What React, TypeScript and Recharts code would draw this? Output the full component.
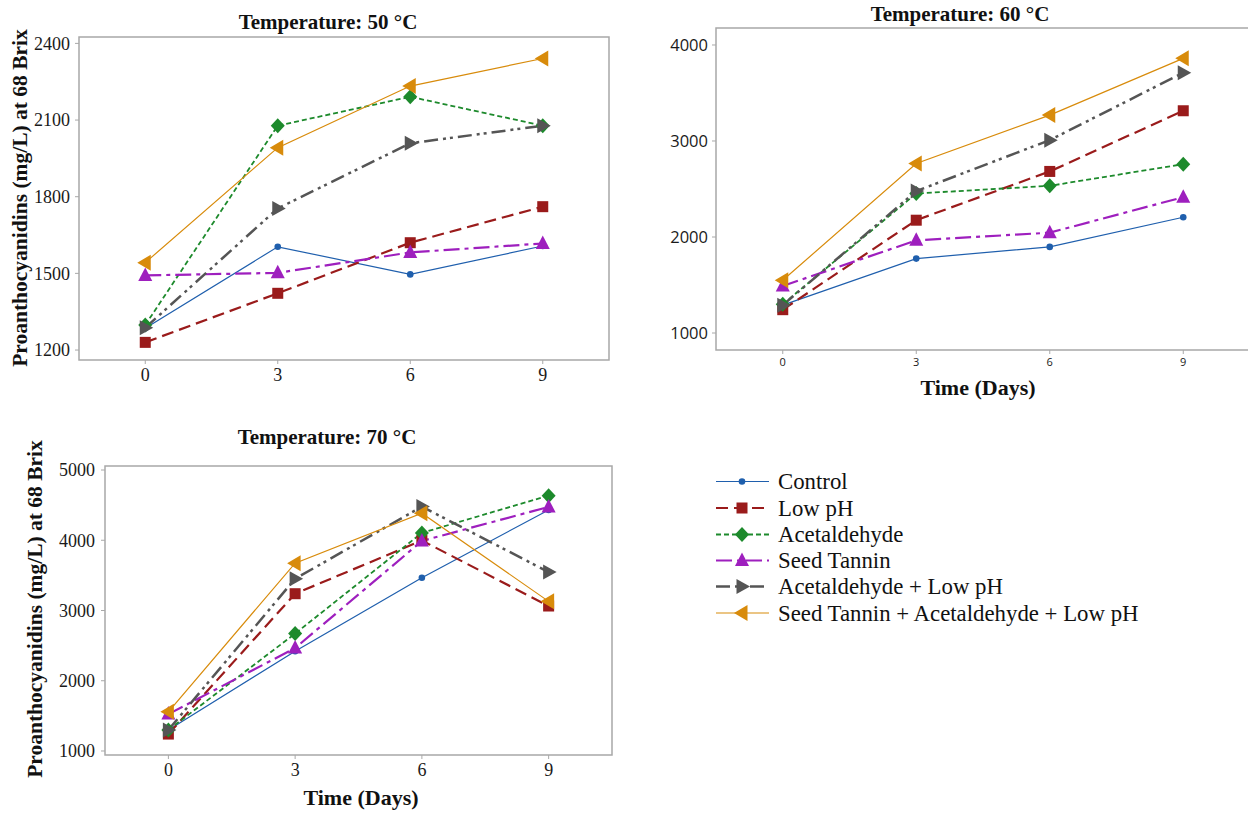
import React from 'react'
import { LineChart, Line, XAxis, YAxis, ReferenceArea } from 'recharts'

const days = [0, 3, 6, 9]
const dayTicks = [0, 3, 6, 9]

// 50 °C
const control50 = [1285, 1604, 1496, 1607]
const lowPh50 = [1230, 1422, 1620, 1761]
const acet50 = [1298, 2078, 2191, 2078]
const seed50 = [1492, 1502, 1582, 1617]
const acetLowPh50 = [1287, 1754, 2009, 2078]
const combo50 = [1542, 1992, 2233, 2341]
const ticks50 = [1200, 1500, 1800, 2100, 2400]

// 60 °C
const control60 = [1290, 1775, 1897, 2206]
const lowPh60 = [1243, 2175, 2683, 3315]
const acet60 = [1300, 2453, 2533, 2759]
const seed60 = [1490, 1965, 2045, 2415]
const acetLowPh60 = [1290, 2478, 3009, 3711]
const combo60 = [1549, 2766, 3270, 3861]
const ticks60 = [1000, 2000, 3000, 4000]

// 70 °C
const control70 = [1300, 2420, 3466, 4432]
const lowPh70 = [1241, 3239, 3996, 3064]
const acet70 = [1300, 2671, 4105, 4635]
const seed70 = [1525, 2465, 3990, 4475]
const acetLowPh70 = [1300, 3452, 4479, 3547]
const combo70 = [1558, 3674, 4385, 3130]
const ticks70 = [1000, 2000, 3000, 4000, 5000]

const seriesNames = [
  'Control',
  'Low pH',
  'Acetaldehyde',
  'Seed Tannin',
  'Acetaldehyde + Low pH',
  'Seed Tannin + Acetaldehyde + Low pH',
]

const series = [
  { key: 's0', color: '#1F5FAD', dash: undefined, width: 1.2, shape: 'circle' },
  { key: 's1', color: '#9A1B1B', dash: '12 6', width: 2.2, shape: 'square' },
  { key: 's2', color: '#1D8A2C', dash: '5 3', width: 1.8, shape: 'diamond' },
  { key: 's3', color: '#9E1FBE', dash: '16 5 4 5', width: 2.2, shape: 'triUp' },
  { key: 's4', color: '#555555', dash: '14 5 3 4 3 5', width: 2.5, shape: 'triRight' },
  { key: 's5', color: '#D88B0B', dash: undefined, width: 1.2, shape: 'triLeft' },
]

const serif = '"Liberation Serif", "Times New Roman", serif'
const sans = '"Open Sans", "Noto Sans", sans-serif'

const rows = (vals: number[][]) =>
  days.map((d, i) => {
    const r: Record<string, number> = { day: d }
    vals.forEach((v, j) => (r['s' + j] = v[i]))
    return r
  })

function Marker({ shape, cx, cy, color }: { shape: string; cx: number; cy: number; color: string }) {
  if (cx == null || cy == null) return null
  switch (shape) {
    case 'circle':
      return <circle cx={cx} cy={cy} r={3.3} fill={color} />
    case 'square':
      return <rect x={cx - 5.5} y={cy - 5.5} width={11} height={11} fill={color} />
    case 'diamond':
      return <polygon points={`${cx},${cy - 7.5} ${cx + 7},${cy} ${cx},${cy + 7.5} ${cx - 7},${cy}`} fill={color} />
    case 'triUp':
      return <polygon points={`${cx},${cy - 8} ${cx + 7},${cy + 5.5} ${cx - 7},${cy + 5.5}`} fill={color} />
    case 'triRight':
      return <polygon points={`${cx + 8},${cy} ${cx - 5.5},${cy - 7.5} ${cx - 5.5},${cy + 7.5}`} fill={color} />
    case 'triLeft':
      return <polygon points={`${cx - 8},${cy} ${cx + 5.5},${cy - 8} ${cx + 5.5},${cy + 8}`} fill={color} />
  }
  return null
}

interface PanelProps {
  data: Record<string, number>[]
  yTicks: number[]
  yDomain: [number, number]
  left: number
  top: number
  width: number
  height: number
  yAxisWidth: number
  margin: { top: number; right: number; bottom: number; left: number }
  yTickFont: { fontFamily: string; fontSize: number }
  xTickFont: { fontFamily: string; fontSize: number }
  yTickMargin: number
}

function Panel(p: PanelProps) {
  return (
    <div style={{ position: 'absolute', left: p.left, top: p.top }}>
      <LineChart width={p.width} height={p.height} data={p.data} margin={p.margin}>
        <XAxis
          dataKey="day"
          type="number"
          domain={[-1.5, 10.5]}
          ticks={dayTicks}
          allowDataOverflow
          axisLine={false}
          tickLine={{ stroke: '#A8A8A8' }}
          tickSize={4}
          tickMargin={4}
          height={30}
          tick={{ ...p.xTickFont, fill: '#1a1a1a' }}
        />
        <YAxis
          type="number"
          domain={p.yDomain}
          ticks={p.yTicks}
          allowDataOverflow
          axisLine={false}
          tickLine={{ stroke: '#A8A8A8' }}
          tickSize={4}
          tickMargin={p.yTickMargin}
          width={p.yAxisWidth}
          tick={{ ...p.yTickFont, fill: '#1a1a1a' }}
        />
        <ReferenceArea
          x1={-1.5}
          x2={10.5}
          y1={p.yDomain[0]}
          y2={p.yDomain[1]}
          fill="none"
          stroke="#A8A8A8"
          strokeWidth={1.5}
          ifOverflow="visible"
        />
        {series.map((s) => (
          <Line
            key={s.key}
            dataKey={s.key}
            stroke={s.color}
            strokeWidth={s.width}
            strokeDasharray={s.dash}
            isAnimationActive={false}
            activeDot={false}
            dot={(d: any) => <Marker key={s.key + d.index} shape={s.shape} cx={d.cx} cy={d.cy} color={s.color} />}
          />
        ))}
      </LineChart>
    </div>
  )
}

const legendRows = [481.5, 508, 534.5, 560.5, 586.5, 613]

export default function App() {
  const yLabel = 'Proanthocyanidins (mg/L) at 68 Brix'
  return (
    <div
      style={{
        position: 'absolute',
        left: 0,
        top: 0,
        width: 1248,
        height: 814,
        background: '#fff',
        overflow: 'hidden',
      }}
    >
      <Panel
        data={rows([control50, lowPh50, acet50, seed50, acetLowPh50, combo50])}
        yTicks={ticks50}
        yDomain={[1161, 2425]}
        left={0}
        top={0}
        width={620}
        height={400}
        yAxisWidth={79}
        margin={{ top: 37, right: 11, bottom: 10, left: 0 }}
        yTickFont={{ fontFamily: serif, fontSize: 18 }}
        xTickFont={{ fontFamily: serif, fontSize: 18 }}
        yTickMargin={5}
      />
      <Panel
        data={rows([control60, lowPh60, acet60, seed60, acetLowPh60, combo60])}
        yTicks={ticks60}
        yDomain={[823, 4177]}
        left={620}
        top={0}
        width={640}
        height={400}
        yAxisWidth={96}
        margin={{ top: 28, right: 10, bottom: 20, left: 0 }}
        yTickFont={{ fontFamily: sans, fontSize: 16.5 }}
        xTickFont={{ fontFamily: sans, fontSize: 11 }}
        yTickMargin={4}
      />
      <Panel
        data={rows([control70, lowPh70, acet70, seed70, acetLowPh70, combo70])}
        yTicks={ticks70}
        yDomain={[943, 5057]}
        left={0}
        top={420}
        width={620}
        height={394}
        yAxisWidth={105}
        margin={{ top: 46, right: 8, bottom: 29, left: 0 }}
        yTickFont={{ fontFamily: serif, fontSize: 18 }}
        xTickFont={{ fontFamily: serif, fontSize: 18 }}
        yTickMargin={6}
      />

      <svg width={1248} height={814} style={{ position: 'absolute', left: 0, top: 0, pointerEvents: 'none' }}>
        <g fontFamily={serif} fontWeight="bold" fill="#111" textAnchor="middle" dominantBaseline="central">
          <text x={328} y={22} fontSize={21}>Temperature: 50 °C</text>
          <text x={960} y={14} fontSize={21}>Temperature: 60 °C</text>
          <text x={327} y={437} fontSize={21}>Temperature: 70 °C</text>
          <text x={978} y={387} fontSize={22}>Time (Days)</text>
          <text x={361} y={797} fontSize={22}>Time (Days)</text>
          <text x={20} y={198} fontSize={21.5} transform="rotate(-90 20 198)">{yLabel}</text>
          <text x={35} y={609} fontSize={21.5} transform="rotate(-90 35 609)">{yLabel}</text>
        </g>
        {series.map((s, i) => (
          <g key={s.key}>
            <line
              x1={716}
              x2={769}
              y1={legendRows[i]}
              y2={legendRows[i]}
              stroke={s.color}
              strokeWidth={s.width}
              strokeDasharray={s.dash}
            />
            <Marker shape={s.shape} cx={742} cy={legendRows[i]} color={s.color} />
            <text x={778} y={legendRows[i]} fontFamily={serif} fontSize={22.8} fill="#111" dominantBaseline="central">
              {seriesNames[i]}
            </text>
          </g>
        ))}
      </svg>
    </div>
  )
}
